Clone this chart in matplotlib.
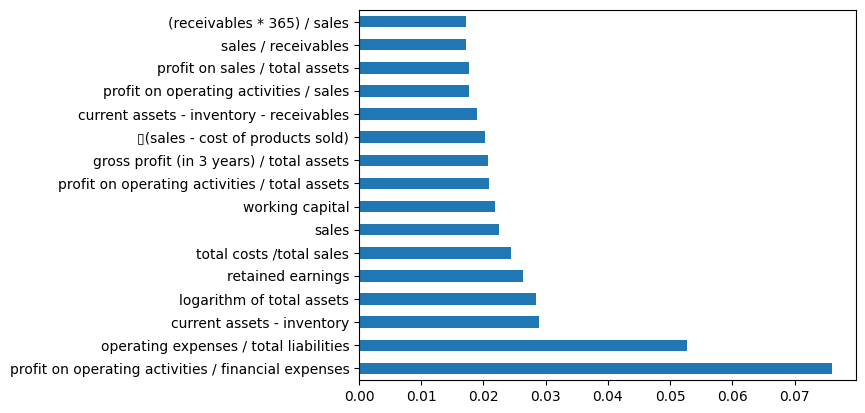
import pandas as pd
import matplotlib
matplotlib.use("Agg")
import matplotlib.pyplot as plt

# feature importances, largest first (drawn at the bottom)
features = [
    "profit on operating activities / financial expenses",
    "operating expenses / total liabilities",
    "current assets - inventory",
    "logarithm of total assets",
    "retained earnings",
    "total costs /total sales",
    "sales",
    "working capital",
    "profit on operating activities / total assets",
    "gross profit (in 3 years) / total assets",
    "\u25af(sales - cost of products sold)",
    "current assets - inventory - receivables",
    "profit on operating activities / sales",
    "profit on sales / total assets",
    "sales / receivables",
    "(receivables * 365) / sales",
]
importance = [0.07607, 0.05269, 0.02893, 0.02844, 0.02635, 0.02442, 0.02249,
              0.02185, 0.02088, 0.02072, 0.02024, 0.01894, 0.01765, 0.01765,
              0.01719, 0.01717]

imp = pd.Series(importance, index=features)

fig = plt.figure(figsize=(8.65, 4.13), dpi=100)
ax = fig.add_subplot(111)
imp.plot(kind="barh", ax=ax)
fig.subplots_adjust(left=0.415, right=0.9896, top=0.9758, bottom=0.0799)

fig.savefig("out.png", dpi=100)
